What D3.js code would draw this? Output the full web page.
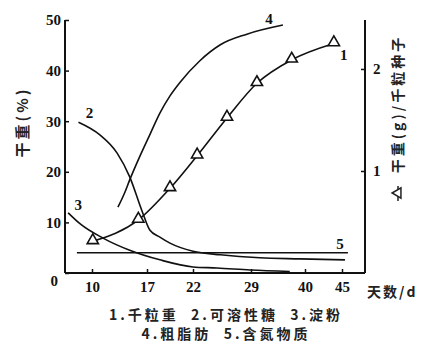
<!DOCTYPE html>
<html>
<head>
<meta charset="utf-8">
<script src="https://cdn.jsdelivr.net/npm/d3@7"></script>
<style>
  body { margin: 0; background: #fff; }
  .num { font-family: "Liberation Serif", "DejaVu Serif", serif; font-weight: bold; font-size: 15px; fill: #111; }
  .cjk { font-family: "Noto Sans CJK SC", sans-serif; font-weight: bold; fill: #222; white-space: pre; }
  .line { fill: none; stroke: #111; stroke-width: 1.6; }
</style>
</head>
<body>
<div id="chart"></div>
<script>
'use strict';

// tick labels
var dayTicks = [10, 17, 22, 29, 40, 45];
var pctTicks = [0, 10, 20, 30, 40, 50];
var gramTicks = [1, 2];

// 1. 千粒重 (right axis, g)
var days1 = [10.1, 15.9, 19.5, 22.5, 26.1, 30.2, 37.3, 43.9];
var grainWeight = [0.31, 0.52, 0.83, 1.15, 1.52, 1.86, 2.09, 2.25];

// 2. 可溶性糖 (%)
var days2 = [8.3, 11.0, 13.2, 14.8, 16.4, 17.3, 18.4, 19.5, 22, 25.3, 30.8, 39, 45.4];
var sugar = [29.8, 27.3, 23.7, 19.0, 12.1, 8.5, 7.1, 5.9, 4.3, 3.6, 3.0, 2.8, 2.6];

// 3. 淀粉 (%)
var days3 = [7.0, 8.6, 11.4, 14.8, 18.4, 22, 24.9, 28.9, 36.9];
var starch = [11.9, 9.6, 6.9, 4.5, 2.6, 1.2, 1.0, 0.6, 0.3];

// 4. 粗脂肪 (%)
var days4 = [13.3, 14.2, 14.8, 16.1, 17.3, 18.4, 19.5, 20.6, 22.8, 25.3, 28.5, 35.5];
var fat = [13.0, 16.0, 18.4, 23.1, 27.3, 31.6, 35.0, 37.7, 41.9, 45.1, 47.2, 49.0];

// 5. 含氮物质 (%)
var days5 = [8.1, 45.8];
var nitrogen = [4.0, 4.0];

var legendRows = ['1.千粒重  2.可溶性糖  3.淀粉', '4.粗脂肪  5.含氮物质'];

function zip(xs, ys) {
  return xs.map(function(x, i) { return { day: x, value: ys[i] }; });
}

var width = 425, height = 351;

var svg = d3.select('#chart').append('svg')
  .attr('width', width)
  .attr('height', height);

// the printed day axis is not evenly spaced, so use a piecewise scale
var x = d3.scaleLinear()
  .domain([6.6, 10, 17, 22, 29, 40, 45, 48.1])
  .range([65, 92, 147, 193, 251, 305, 342, 365]);

var yL = d3.scaleLinear().domain([0, 50]).range([273, 20]);
var yR = d3.scaleLinear().domain([0, 2.48]).range([273, 20]);

// axes
var leftAxis = d3.axisLeft(yL).tickValues(pctTicks).tickSize(-4).tickPadding(4);
var gl = svg.append('g').attr('transform', 'translate(65,0)').call(leftAxis);
gl.selectAll('text').attr('class', 'num').attr('fill', null);
gl.selectAll('text').filter(function(d) { return d === 0; }).attr('dy', '0.85em').attr('dx', -3);

var bottomAxis = d3.axisBottom(x).tickValues(dayTicks).tickSize(-4).tickPadding(8);
var gb = svg.append('g').attr('transform', 'translate(0,273)').call(bottomAxis);
gb.selectAll('text').attr('class', 'num').attr('fill', null);

var rightAxis = d3.axisRight(yR).tickValues(gramTicks).tickSize(-4).tickPadding(8)
  .tickFormat(d3.format('d'));
var gr = svg.append('g').attr('transform', 'translate(365,0)').call(rightAxis);
gr.selectAll('text').attr('class', 'num').attr('fill', null);

svg.selectAll('.domain').attr('stroke', '#111').attr('stroke-width', 2);
svg.selectAll('.tick line').attr('stroke', '#111').attr('stroke-width', 1.5);
gb.select('.domain').attr('d', 'M65,0H365');
gr.select('.domain').attr('d', 'M0,20V273');
gl.select('.domain').attr('d', 'M0,20V273');

// curves
var lineL = d3.line()
  .x(function(d) { return x(d.day); })
  .y(function(d) { return yL(d.value); })
  .curve(d3.curveMonotoneX);

var lineR = d3.line()
  .x(function(d) { return x(d.day); })
  .y(function(d) { return yR(d.value); })
  .curve(d3.curveMonotoneX);

var s2 = zip(days2, sugar), s3 = zip(days3, starch), s4 = zip(days4, fat), s5 = zip(days5, nitrogen);
var s1 = zip(days1, grainWeight);

[s2, s3, s4, s5].forEach(function(s) {
  svg.append('path').datum(s).attr('class', 'line').attr('d', lineL);
});
svg.append('path').datum(s1).attr('class', 'line').attr('d', lineR);

svg.selectAll('path.tri')
  .data(s1)
  .enter()
  .append('path')
  .attr('class', 'tri')
  .attr('d', d3.symbol().type(d3.symbolTriangle).size(55))
  .attr('transform', function(d) { return 'translate(' + x(d.day) + ',' + (yR(d.value) - 1) + ')'; })
  .attr('fill', '#fff')
  .attr('stroke', '#111')
  .attr('stroke-width', 1.6);

// curve numbers
function tag(txt, px, py) {
  svg.append('text').attr('class', 'num').attr('font-size', 13)
    .attr('x', px).attr('y', py).attr('text-anchor', 'middle').text(txt);
}
tag('1', x(days1[days1.length - 1]) + 10, yR(grainWeight[grainWeight.length - 1]) + 17);
tag('2', x(days2[0]) + 11, yL(sugar[0]) - 4);
tag('3', x(days3[0]) + 10, yL(starch[0]) - 3);
tag('4', x(days4[days4.length - 1]) - 14, yL(fat[fat.length - 1]) - 1);
tag('5', x(days5[1]) - 8, yL(nitrogen[1]) - 4);

// axis titles
svg.append('text').attr('class', 'cjk').attr('font-size', 15)
  .attr('letter-spacing', 3)
  .attr('transform', 'translate(28,122) rotate(-90)')
  .attr('text-anchor', 'middle')
  .text('干重(%)');

svg.append('text').attr('class', 'cjk').attr('font-size', 14)
  .attr('letter-spacing', 2)
  .attr('x', 367).attr('y', 297)
  .text('天数/d');

var rightTitle = svg.append('g').attr('transform', 'translate(398,0)');
rightTitle.append('line').attr('x1', 0).attr('x2', 0).attr('y1', 186).attr('y2', 201)
  .attr('stroke', '#222').attr('stroke-width', 1.5);
rightTitle.append('path')
  .attr('d', d3.symbol().type(d3.symbolTriangle).size(45))
  .attr('transform', 'translate(0,193) rotate(-90)')
  .attr('fill', '#fff').attr('stroke', '#222').attr('stroke-width', 1.5);
rightTitle.append('text').attr('class', 'cjk').attr('font-size', 14)
  .attr('letter-spacing', 3)
  .attr('transform', 'translate(5,104) rotate(-90)')
  .attr('text-anchor', 'middle')
  .text('干重(g)/千粒种子');

// legend
svg.selectAll('text.legend')
  .data(legendRows)
  .enter()
  .append('text')
  .attr('class', 'cjk legend')
  .attr('font-size', 14)
  .attr('letter-spacing', 3)
  .attr('x', 226)
  .attr('y', function(d, i) { return 320 + i * 19; })
  .attr('text-anchor', 'middle')
  .text(function(d) { return d; });
</script>
</body>
</html>
